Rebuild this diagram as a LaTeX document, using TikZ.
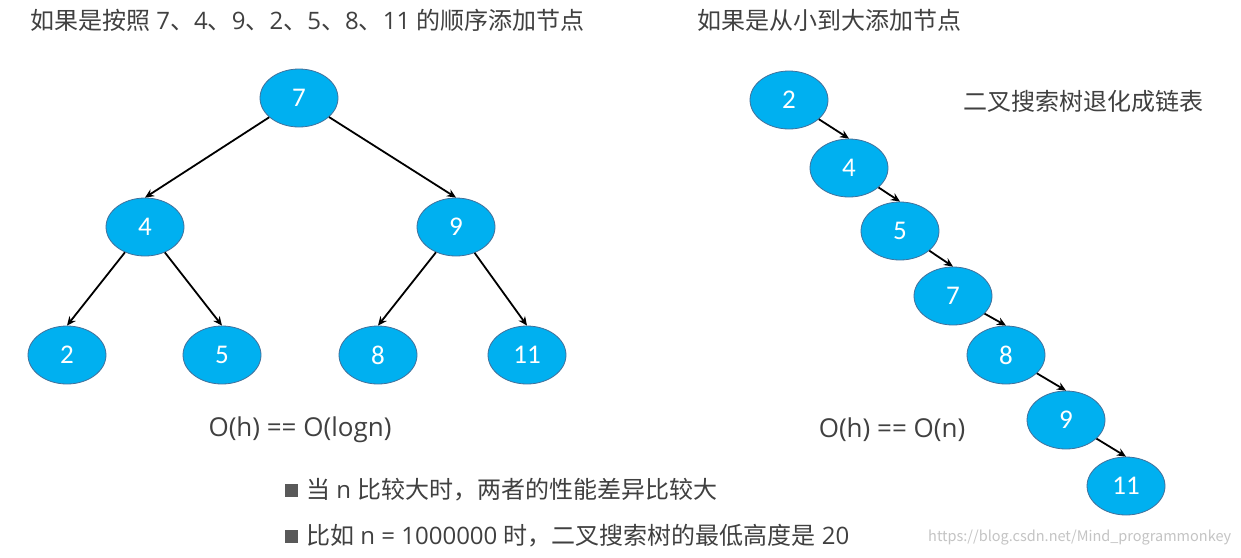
\documentclass[tikz,border=0pt]{standalone}
\usepackage{fontspec}
\setmainfont{Open Sans}
\newfontfamily\cjk{Noto Sans CJK SC}
\newfontfamily\carl{Carlito}
\newcommand\latn[1]{{\normalfont\fontsize{24}{24}\selectfont #1}}
\newcommand\latb[1]{{\normalfont\fontsize{26}{26}\selectfont #1}}
\usetikzlibrary{shapes.geometric,arrows.meta}
\definecolor{nodeblue}{HTML}{00B0F0}
\definecolor{nodeedge}{HTML}{41719C}
\definecolor{txt}{HTML}{404040}
\definecolor{bul}{HTML}{595959}
\definecolor{wm}{HTML}{C4C4C4}
\begin{document}
\begin{tikzpicture}[x=1pt,y=-1pt,
 bnode/.style={ellipse,draw=nodeedge,line width=0.8pt,fill=nodeblue,minimum width=78pt,minimum height=58pt,inner sep=0pt,text=white,font=\carl\fontsize{27}{27}\selectfont},
 edge/.style={-{Stealth[length=9pt,width=8pt]},line width=1.8pt,black},
 lbl/.style={anchor=west,inner sep=0pt,text=txt,font=\cjk\fontsize{24}{24}\selectfont},
 bsq/.style={fill=bul,minimum size=13pt,inner sep=0pt}]
\useasboundingbox[fill=white] (0,0) rectangle (1241,557);
% titles
\node[lbl] (t1) at (30,20) {如果是按照\latn{ 7}、\latn{4}、\latn{9}、\latn{2}、\latn{5}、\latn{8}、\latn{11 }的顺序添加节点};
\node[lbl] (t2) at (697,20) {如果是从小到大添加节点};
\node[lbl] (t3) at (963,101) {二叉搜索树退化成链表};
% left tree
\node[bnode] (a7) at (299,98) {7};
\node[bnode] (a4) at (145,227) {4};
\node[bnode] (a9) at (456,227) {9};
\node[bnode] (a2) at (67,355) {2};
\node[bnode] (a5) at (222,355) {5};
\node[bnode] (a8) at (378,355) {8};
\node[bnode] (a11) at (527,355) {11};
\draw[edge] (a7) -- (a4.north);
\draw[edge] (a7) -- (a9.north);
\draw[edge] (a4) -- (a2.north);
\draw[edge] (a4) -- (a5.north);
\draw[edge] (a9) -- (a8.north);
\draw[edge] (a9) -- (a11.north);
% right chain
\node[bnode] (b2) at (789,100) {2};
\node[bnode] (b4) at (849,168) {4};
\node[bnode] (b5) at (900,231) {5};
\node[bnode] (b7) at (953,296) {7};
\node[bnode] (b8) at (1006,355) {8};
\node[bnode] (b9) at (1066,420) {9};
\node[bnode] (b11) at (1126,486) {11};
\draw[edge] (b2) -- (b4.north);
\draw[edge] (b4) -- (b5.north);
\draw[edge] (b5) -- (b7.north);
\draw[edge] (b7) -- (b8.north);
\draw[edge] (b8) -- (b9.north);
\draw[edge] (b9) -- (b11.north);
% complexity
\node[lbl,anchor=center] (c1) at (300,430) {\latb{O(h) == O(logn)}};
\node[lbl,anchor=center] (c2) at (892,430) {\latb{O(h) == O(n)}};
% bullets
\node[bsq] (s1) at (291,490) {};
\node[lbl] (p1) at (306,490) {当\latn{ n }比较大时，两者的性能差异比较大};
\node[bsq] (s2) at (291,536) {};
\node[lbl] (p2) at (306,536) {比如\latn{ n = 1000000 }时，二叉搜索树的最低高度是\latn{ 20}};
% watermark
\node[anchor=west,inner sep=0pt,text=wm,font=\cjk\fontsize{14.5}{14.5}\selectfont] (w) at (928,538) {https://blog.csdn.net/Mind\_programmonkey};
\end{tikzpicture}
\end{document}
